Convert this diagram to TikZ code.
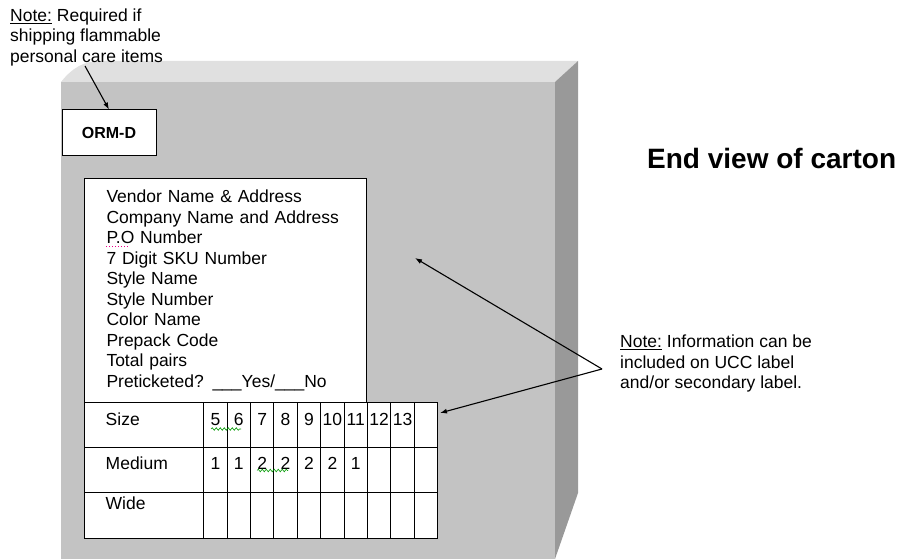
\documentclass[tikz,border=0pt]{standalone}
\usepackage{fontspec}
\setmainfont{Liberation Sans}
\usetikzlibrary{matrix,arrows.meta,decorations.pathmorphing}

\definecolor{cartonfront}{RGB}{195,195,195}
\definecolor{cartontop}{RGB}{224,224,224}
\definecolor{cartonside}{RGB}{153,153,153}

\tikzset{
    pointer/.style={draw=black, line width=1.1pt, -{Latex[length=7pt,width=5pt]}},
    spellmark/.style={draw=green!60!black, line width=0.6pt, decorate,
        decoration={snake, amplitude=1.3pt, segment length=4pt}},
    labelframe/.style={draw, fill=white, line width=1pt}
}

\begin{document}
\begin{tikzpicture}[x=1pt, y=-1pt,
    every node/.style={font=\fontsize{17.5}{20.5}\selectfont, inner sep=0pt}]
    \useasboundingbox (0,0) rectangle (903,559);

    % carton, end view
    \fill[cartontop] (61,82) .. controls (72,68) and (84,61) .. (100,61)
        -- (578,61) -- (555,82) -- cycle;
    \fill[cartonside] (555,82) -- (578,61) -- (578,493) -- (555,559) -- cycle;
    \fill[cartonfront] (61,82) rectangle (555,559);

    \node[labelframe, minimum width=94, minimum height=46,
        font=\bfseries\fontsize{16}{18}\selectfont] (ormd) at (109,133) {ORM-D};

    \node[labelframe, anchor=north west, minimum height=224, text width=238,
        inner xsep=22, align=left] (labelbox) at (84,178)
        {Vendor Name \& Address\\
         Company Name and Address\\
         P.O Number\\
         7 Digit SKU Number\\
         Style Name\\
         Style Number\\
         Color Name\\
         Prepack Code\\
         Total pairs\\
         Preticketed? \_\_\_Yes/\_\_\_No};

    \matrix (sizes) [matrix of nodes,
        nodes in empty cells,
        anchor=north west, inner sep=0pt,
        column sep=-1pt, row sep=-1pt,
        nodes={labelframe, minimum width=23.4},
        column 1/.style={nodes={text width=77, inner xsep=21, align=left}},
        row 1/.style={nodes={text height=23, text depth=22}},
        row 2/.style={nodes={text height=22, text depth=23}},
        row 3/.style={nodes={text height=17, text depth=29}}
    ] at (84,402)
    {
        Size   & 5 & 6 & 7 & 8 & 9 & 10 & 11 & 12 & 13 &  \\
        Medium & 1 & 1 & 2 & 2 & 2 & 2  & 1  &    &    &  \\
        Wide   &   &   &   &   &   &    &    &    &    &  \\
    };

    % spell checker marks
    \draw[magenta, dotted, line width=1pt] (106,246) -- (130,246);
    \draw[spellmark] (211,429) -- (241,429);
    \draw[spellmark] (257,470.5) -- (288,470.5);

    % notes
    \node[anchor=north west, align=left] (ormnote) at (10,8.5)
        {\underline{Note:} Required if\\shipping flammable\\personal care items};
    \node[anchor=north west, align=left] (uccnote) at (620,335)
        {\underline{Note:} Information can be\\included on UCC label\\and/or secondary label.};
    \node[anchor=west, font=\bfseries\fontsize{28}{32}\selectfont] (title)
        at (647,158) {End view of carton};

    \coordinate (careptr) at (85,66);
    \coordinate (fork) at (602,369);
    \coordinate (facept) at (415,258);
    \coordinate (tablept) at (440,413);

    \draw[pointer] (careptr) -- (ormd.north);
    \draw[pointer] (fork) -- (facept);
    \draw[pointer] (fork) -- (tablept);

\end{tikzpicture}
\end{document}
